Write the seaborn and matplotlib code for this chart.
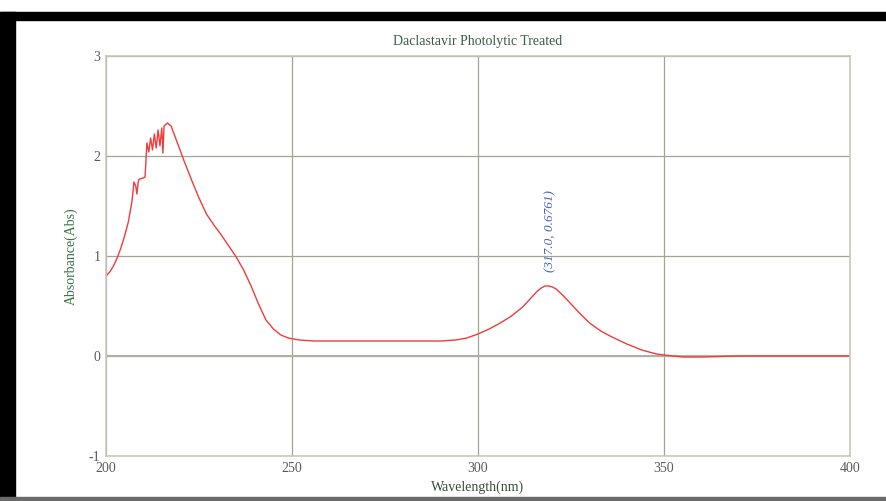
import numpy as np
import pandas as pd
import matplotlib
matplotlib.use("Agg")
import matplotlib.pyplot as plt
from matplotlib.patches import Rectangle
import seaborn as sns

# ---- data ----
wavelength = [200, 201, 202, 203, 204, 205, 206, 207, 207.5, 208, 208.3, 208.7, 209, 210, 210.5,
              211, 211.5, 212, 212.5, 213, 213.5, 214, 214.5, 215, 215.3, 215.6, 216.5, 217.5,
              219, 221, 223, 225, 227, 229, 231, 233, 235, 237, 239, 241, 243, 245, 247, 249,
              252, 256, 260, 270, 280, 290, 294, 297, 300, 303, 306, 309, 312, 314, 316, 317,
              318, 319, 320, 321, 323, 325, 327, 330, 333, 336, 340, 344, 348, 350, 355, 360,
              365, 370, 380, 390, 400]
absorbance = [0.80, 0.84, 0.90, 0.98, 1.08, 1.20, 1.34, 1.55, 1.74, 1.70, 1.62, 1.75, 1.77, 1.78, 1.79,
              2.13, 2.04, 2.18, 2.06, 2.22, 2.08, 2.26, 2.10, 2.28, 2.03, 2.30, 2.33, 2.30,
              2.15, 1.95, 1.76, 1.58, 1.42, 1.31, 1.21, 1.10, 0.99, 0.86, 0.70, 0.52, 0.36, 0.27, 0.21, 0.18,
              0.16, 0.15, 0.15, 0.15, 0.15, 0.15, 0.16, 0.18, 0.22, 0.27, 0.33, 0.40, 0.49, 0.57, 0.65, 0.68,
              0.70, 0.70, 0.69, 0.67, 0.60, 0.52, 0.44, 0.33, 0.25, 0.19, 0.12, 0.06, 0.02, 0.01, -0.01, -0.01,
              -0.005, 0.0, 0.0, 0.0, 0.0]
x_ticks = [200, 250, 300, 350, 400]
y_ticks = [-1, 0, 1, 2, 3]
peak_label = "(317.0, 0.6761)"
peak_pos = (319.4, 1.25)

df = pd.DataFrame({"Wavelength": wavelength, "Absorbance": absorbance})

sns.set_style("white")
plt.rcParams["font.family"] = ["Liberation Serif", "DejaVu Serif"]
plt.rcParams["axes.unicode_minus"] = False

fig = plt.figure(figsize=(8.87, 5.01), dpi=100)
ax = fig.add_axes([106/887, 1-456/501, (850-106)/887, (456-56)/501])

sns.lineplot(data=df, x="Wavelength", y="Absorbance", ax=ax, color="#f03c3c",
             linewidth=1.0, estimator=None, sort=False)

ax.set_xlim(200, 400)
ax.set_ylim(-1, 3)
ax.set_xticks(x_ticks)
ax.set_yticks(y_ticks)
ax.grid(True, color="#a4a494", linewidth=0.9)
ax.axhline(0, color="#b0b0a8", linewidth=1.5, zorder=1)
for s in ax.spines.values():
    s.set_color("#c8c8c0")
    s.set_linewidth(1.2)
ax.tick_params(axis="both", length=0, labelsize=10, labelcolor="#5a5a5a", pad=4)

ax.set_xlabel("Wavelength(nm)", fontsize=10, color="#3c4a3c", labelpad=4)
ax.set_ylabel("Absorbance(Abs)", fontsize=10, color="#3a7048", labelpad=8)
ax.set_title("Daclastavir Photolytic Treated", fontsize=10, color="#3c5a48", pad=8)

ax.text(peak_pos[0], peak_pos[1], peak_label, rotation=90, ha="center", va="center",
        fontsize=9.5, style="italic", color="#4a5cc8")

# frame of the screenshot
fig.patches.append(Rectangle((0, 1-20/501), 1, 8/501, transform=fig.transFigure,
                             color="black", zorder=10))
fig.patches.append(Rectangle((0, 0), 15/887, 1-12/501, transform=fig.transFigure,
                             color="black", zorder=10))
fig.patches.append(Rectangle((0, 1/501), 1, 3/501, transform=fig.transFigure,
                             color="#6a6a6a", zorder=10))

fig.savefig("out.png", dpi=100)
